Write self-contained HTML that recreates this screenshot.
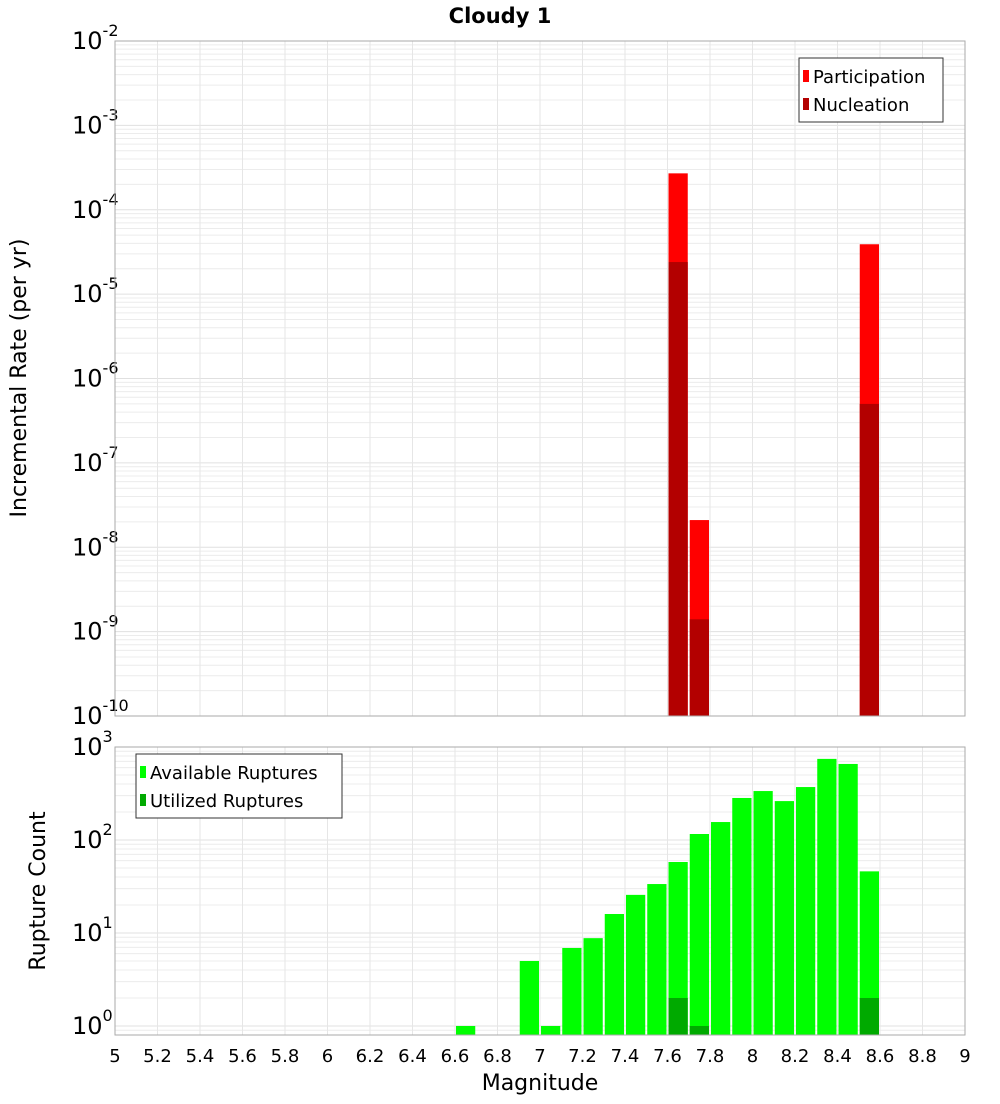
<!DOCTYPE html>
<html><head><meta charset="utf-8"><style>
body{margin:0;background:#fff;font-family:"DejaVu Sans","Liberation Sans",sans-serif}
svg text{font-family:"DejaVu Sans","Liberation Sans",sans-serif}
</style></head><body>
<svg id="chart" width="1000" height="1100" xmlns="http://www.w3.org/2000/svg">
<text x="500" y="23" text-anchor="middle" font-size="21" font-weight="bold">Cloudy 1</text>
<g id="top"></g>
<g id="bot"></g>
<text transform="translate(26,378) rotate(-90)" text-anchor="middle" font-size="22">Incremental Rate (per yr)</text>
<text transform="translate(45,891) rotate(-90)" text-anchor="middle" font-size="22">Rupture Count</text>
<text x="540" y="1090" text-anchor="middle" font-size="22">Magnitude</text>
</svg>
<script>
const rateMags=[7.65,7.75,8.55];
const participation=[2.7e-4,2.1e-8,3.9e-5];
const nucleation=[2.4e-5,1.4e-9,5e-7];
const countMags=[6.65,6.95,7.05,7.15,7.25,7.35,7.45,7.55,7.65,7.75,7.85,7.95,8.05,8.15,8.25,8.35,8.45,8.55];
const available=[1,5,1,6.9,8.8,16,25.7,33.6,58,116,156,283,336,262,371,745,657,46];
const utilizedMags=[7.65,7.75,8.55];
const utilized=[2,1,2];
const xTicks=[5,5.2,5.4,5.6,5.8,6,6.2,6.4,6.6,6.8,7,7.2,7.4,7.6,7.8,8,8.2,8.4,8.6,8.8,9];
const xTickLabels=["5","5.2","5.4","5.6","5.8","6","6.2","6.4","6.6","6.8","7","7.2","7.4","7.6","7.8","8","8.2","8.4","8.6","8.8","9"];
const topDecades=[-10,-9,-8,-7,-6,-5,-4,-3,-2];
const botDecades=[0,1,2,3];

const NS="http://www.w3.org/2000/svg";
const X0=115,X1=965;
const xs=m=>X0+(m-5)/4*(X1-X0);
function mk(p,t,a){const e=document.createElementNS(NS,t);for(const k in a)e.setAttribute(k,a[k]);p.appendChild(e);return e;}
function panel(g,top,bot,ymin,ymax,decades,labelDy){
  const ys=v=>bot-(Math.log10(v)-ymin)/(ymax-ymin)*(bot-top);
  // grid
  for(let d=Math.floor(ymin);d<ymax;d++)for(let k=1;k<10;k++){const v=k*Math.pow(10,d);const lv=Math.log10(v);if(lv<ymin||lv>ymax)continue;
    const l=mk(g,'line',{x1:X0,x2:X1,y1:ys(v),y2:ys(v),stroke:k==1?'#e0e0e0':'#ececec','stroke-width':1});
    }
  xTicks.forEach(t=>{const l=mk(g,'line',{x1:xs(t),x2:xs(t),y1:top,y2:bot,stroke:'#e6e6e6','stroke-width':1});
    });
  decades.forEach(d=>{const y=ys(Math.pow(10,d));
    const t=mk(g,'text',{x:72,y:y+labelDy,'font-size':24});t.textContent='10';
    
    const s=mk(t,'tspan',{dy:-13,'font-size':16});s.textContent=String(d);});
  return ys;
}
function bar(g,m,v,ys,bot,color,name){
  const x=xs(m-0.05)+1,w=xs(m+0.05)-xs(m-0.05)-2;const y=ys(v);
  const r=mk(g,'rect',{x:x,y:y,width:w,height:bot-y,fill:color});
  
}
function frame(g,top,bot){const r=mk(g,'rect',{x:X0,y:top,width:X1-X0,height:bot-top,fill:'none',stroke:'#aaa','stroke-width':1});
  }
function legend(g,x,y,w,items){
  const r=mk(g,'rect',{x:x,y:y,width:w,height:items.length*28+8,fill:'#fff',stroke:'#333','stroke-width':1});
  
  items.forEach((it,i)=>{const cy=y+18+i*28;
    const s=mk(g,'rect',{x:x+4,y:cy-6,width:6,height:12,fill:it[1]});
    
    const t=mk(g,'text',{x:x+14,y:cy+7,'font-size':18});t.textContent=it[0];
    });
}
const gt=document.getElementById('top'),gb=document.getElementById('bot');
const T0=41,T1=716,B0=747,B1=1035;
const yt=panel(gt,T0,T1,-10,-2,topDecades,8);
rateMags.forEach((m,i)=>bar(gt,m,participation[i],yt,T1,'#ff0000','participation-bar'));
rateMags.forEach((m,i)=>bar(gt,m,nucleation[i],yt,T1,'#b30000','nucleation-bar'));
frame(gt,T0,T1);
legend(gt,799,58,144,[["Participation","#ff0000"],["Nucleation","#b30000"]]);
const bmin=Math.log10(0.8);
const yb=panel(gb,B0,B1,bmin,3,botDecades,8);
countMags.forEach((m,i)=>bar(gb,m,available[i],yb,B1,'#00ff00','available-bar'));
utilizedMags.forEach((m,i)=>bar(gb,m,utilized[i],yb,B1,'#00aa00','utilized-bar'));
frame(gb,B0,B1);
legend(gb,136,754,206,[["Available Ruptures","#00ff00"],["Utilized Ruptures","#00aa00"]]);
xTicks.forEach((t,i)=>{const e=mk(gb,'text',{x:xs(t),y:1062,'text-anchor':'middle','font-size':18});e.textContent=xTickLabels[i];
  });
</script>
</body></html>
